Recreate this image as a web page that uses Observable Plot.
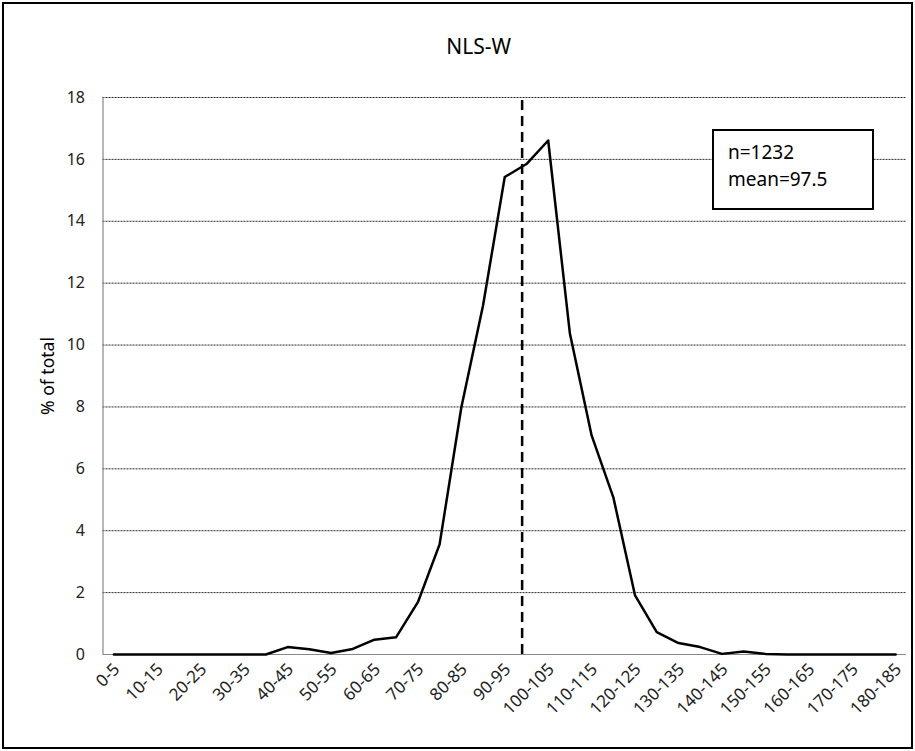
<!DOCTYPE html>
<html><head><meta charset="utf-8">
<script src="https://cdn.jsdelivr.net/npm/d3@7"></script>
<script src="https://cdn.jsdelivr.net/npm/@observablehq/plot@0.6"></script>
<style>
body{margin:0;background:#fff;}
#wrap{position:relative;width:915px;height:751px;font-family:"Noto Sans",sans-serif;overflow:hidden;}
#wrap svg{position:absolute;left:0;top:0;}
#border{position:absolute;left:2px;top:2px;width:907px;height:743px;border:2px solid #000;pointer-events:none;}
#legend{position:absolute;left:712px;top:129px;width:158px;height:77px;border:2px solid #000;background:#fff;font-size:19px;color:#000;}
#legend div{position:absolute;left:14px;white-space:nowrap;}
</style></head>
<body>
<div id="wrap"><div id="border"></div></div>
<script>
const bins = ["0-5","5-10","10-15","15-20","20-25","25-30","30-35","35-40","40-45","45-50",
  "50-55","55-60","60-65","65-70","70-75","75-80","80-85","85-90","90-95","95-100",
  "100-105","105-110","110-115","115-120","120-125","125-130","130-135","135-140","140-145","145-150",
  "150-155","155-160","160-165","165-170","170-175","175-180","180-185"];
const pct = [0,0,0,0,0,0,0,0,0.24,0.17,
  0.05,0.18,0.48,0.56,1.69,3.56,7.98,11.28,15.43,15.85,
  16.61,10.37,7.08,5.08,1.91,0.72,0.37,0.24,0.02,0.1,
  0.02,0,0,0,0,0,0];
const yTicks = [0,2,4,6,8,10,12,14,16,18];
const meanLineX = 96.5;
const title = "NLS-W";
const yLabel = "% of total";
const legendLines = ["n=1232","mean=97.5"];

const data = bins.map((b,i)=>({bin:b, mid:2.5+5*i, pct:pct[i]}));
const xTickData = data.filter((d,i)=>i%2===0);

const chart = Plot.plot({
  width:915, height:751,
  marginLeft:102.5, marginRight:9, marginTop:97, marginBottom:97,
  style:{fontFamily:"'Noto Sans', sans-serif", background:"#fff", color:"#000"},
  x:{domain:[0,185], axis:null},
  y:{domain:[0,18], axis:null},
  marks:[
    Plot.gridY(yTicks.slice(1), {stroke:"#000", strokeOpacity:0.85, strokeDasharray:"2,1", strokeWidth:1}),
    Plot.ruleX([0], {stroke:"#888", strokeWidth:1.2}),
    Plot.ruleY([0], {stroke:"#888", strokeWidth:1.2}),
    Plot.text(yTicks, {x:0, y:d=>d, text:d=>String(d), textAnchor:"end", dx:-18, fontSize:16, fill:"#222"}),
    Plot.text(xTickData, {x:"mid", y:0, text:"bin", textAnchor:"end", rotate:-45, dx:3, dy:12, fontSize:17, fill:"#222"}),
    Plot.ruleX([meanLineX], {y1:0, y2:18, stroke:"#000", strokeWidth:2.5, strokeDasharray:"10,6"}),
    Plot.line(data, {x:"mid", y:"pct", stroke:"#000", strokeWidth:2.5}),
    Plot.text([yLabel], {frameAnchor:"left", textAnchor:"middle", dx:-55, rotate:-90, fontSize:17.5, fill:"#000"}),
    Plot.text([title], {frameAnchor:"top", dx:-26, dy:-58, fontSize:21, fill:"#000"})
  ]
});
const wrap = document.getElementById("wrap");
wrap.insertBefore(chart, wrap.firstChild);
const leg = document.createElement("div");
leg.id = "legend";
legendLines.forEach((t,i)=>{
  const d = document.createElement("div");
  d.textContent = t;
  d.style.top = (8 + i*27) + "px";
  leg.appendChild(d);
});
wrap.appendChild(leg);
</script>
</body></html>
